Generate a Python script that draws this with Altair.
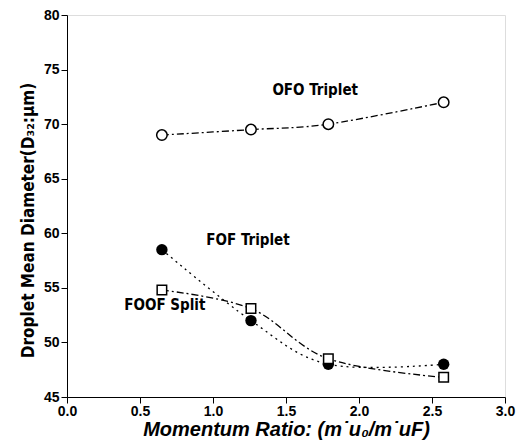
import altair as alt
import pandas as pd

x_vals = [0.65, 1.26, 1.79, 2.58]
ofo = [69.0, 69.5, 70.0, 72.0]
fof = [58.5, 52.0, 48.0, 48.0]
foof = [54.8, 53.1, 48.5, 46.8]

labels = ["OFO Triplet", "FOF Triplet", "FOOF Split"]
label_x = [1.70, 1.24, 0.67]
label_y = [73.1, 59.4, 53.4]

x_ticks = [i * 0.25 for i in range(13)]
y_ticks = [45 + i * 2.5 for i in range(15)]

df = pd.DataFrame({
    "x": x_vals * 3,
    "y": ofo + fof + foof,
    "s": ["OFO"] * 4 + ["FOF"] * 4 + ["FOOF"] * 4,
})
lab = pd.DataFrame({"t": labels, "x": label_x, "y": label_y})

FONT = "Liberation Sans"
COND = "DejaVu Sans Condensed, Liberation Sans, sans-serif"

xs = alt.Scale(domain=[0, 3], nice=False)
ys = alt.Scale(domain=[45, 80], nice=False)

xax = alt.Axis(
    values=x_ticks, labelExpr="datum.value % 0.5 === 0 ? format(datum.value, '.1f') : ''",
    tickSize={"condition": {"test": "datum.value % 0.5 === 0", "value": 6}, "value": 3},
    grid=False, domainColor="black", tickColor="black", labelColor="black",
    labelFont=FONT, labelFontWeight="bold", labelFontSize=14, labelPadding=1,
    title="Momentum Ratio: (m\u02d9u\u2080/m\u02d9uF)", titleFont=FONT, titleFontSize=20,
    titleFontWeight="bold", titleFontStyle="italic", titleColor="black", titlePadding=1,
    labelFlush=False,
)
yax = alt.Axis(
    values=y_ticks, labelExpr="datum.value % 5 === 0 ? format(datum.value, 'd') : ''",
    tickSize={"condition": {"test": "datum.value % 5 === 0", "value": 6}, "value": 3},
    grid=False, domainColor="black", tickColor="black", labelColor="black",
    labelFont=FONT, labelFontWeight="bold", labelFontSize=14, labelPadding=2,
    title="Droplet Mean Diameter(D\u2083\u2082:\u00b5m)", titleFont=COND, titleFontSize=17,
    titleFontWeight="bold", titleColor="black", titlePadding=6, titleY=205,
)

base = alt.Chart(df)

def series(name, dash, shape, filled, size):
    d = base.transform_filter(alt.datum.s == name)
    line = d.mark_line(color="black", strokeWidth=1.3, strokeDash=dash, interpolate="cardinal").encode(
        x=alt.X("x:Q", scale=xs, axis=xax), y=alt.Y("y:Q", scale=ys, axis=yax))
    pts = d.mark_point(shape=shape, filled=filled, color="black", fill="black" if filled else "white",
                       size=size, strokeWidth=1.5, opacity=1).encode(
        x=alt.X("x:Q", scale=xs), y=alt.Y("y:Q", scale=ys))
    return line + pts

text = alt.Chart(lab).mark_text(font=COND, fontWeight="bold", fontSize=15, color="black").encode(
    x=alt.X("x:Q", scale=xs), y=alt.Y("y:Q", scale=ys), text="t:N")

chart = alt.layer(
    series("OFO", [7, 3, 2, 3], "circle", False, 110),
    series("FOF", [2, 4], "circle", True, 130),
    series("FOOF", [7, 3, 2, 3], "square", False, 90),
    text,
).properties(
    width=438, height=382,
    autosize=alt.AutoSizeParams(type="none"),
    padding={"left": 59, "top": 7, "right": 12, "bottom": 48},
).configure_view(stroke="black", strokeWidth=1.5).configure(background="white")

chart.save("out.html", embed_options={"renderer": "svg", "actions": False})
